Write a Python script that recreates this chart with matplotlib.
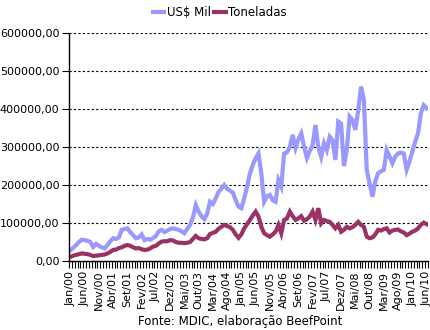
import numpy as np
import matplotlib
matplotlib.use('Agg')
import matplotlib.pyplot as plt

# ── Data (monthly, Jan/00 .. Jun/10) ─────────────────────────
MESES = ['Jan', 'Fev', 'Mar', 'Abr', 'Mai', 'Jun',
         'Jul', 'Ago', 'Set', 'Out', 'Nov', 'Dez']
meses = [f"{MESES[i % 12]}/{(i // 12):02d}" for i in range(126)]

usd_mil = [
    28000, 35000, 42000, 50000, 56000, 55000, 53000, 50000, 37000, 45000, 40000, 36000,
    33000, 42000, 52000, 60000, 58000, 62000, 82000, 84000, 86000, 76000, 68000, 60000,
    62000, 70000, 55000, 58000, 56000, 60000, 66000, 78000, 82000, 76000, 80000, 84000,
    86000, 84000, 82000, 78000, 73000, 85000, 95000, 115000, 147000, 130000, 118000, 110000,
    125000, 156000, 150000, 165000, 182000, 190000, 200000, 190000, 185000, 180000, 160000, 143000,
    139000, 165000, 196000, 230000, 253000, 270000, 283000, 230000, 156000, 170000, 174000, 160000,
    156000, 213000, 196000, 283000, 286000, 300000, 332000, 297000, 320000, 336000, 301000, 271000,
    290000, 305000, 358000, 300000, 274000, 310000, 292000, 327000, 318000, 266000, 367000, 362000,
    250000, 292000, 380000, 371000, 345000, 397000, 459000, 424000, 240000, 204000, 169000, 210000,
    231000, 236000, 240000, 292000, 275000, 257000, 275000, 283000, 285000, 283000, 240000, 262000,
    288000, 314000, 336000, 389000, 410000, 402000,
]

toneladas = [
    11000, 14000, 16000, 18000, 20000, 19000, 18000, 16000, 13000, 14000, 15000, 16000,
    17000, 20000, 24000, 29000, 30000, 34000, 36000, 40000, 42000, 40000, 36000, 33000,
    34000, 31000, 29000, 30000, 33000, 38000, 40000, 46000, 51000, 52000, 52000, 55000,
    54000, 50000, 48000, 48000, 47000, 48000, 50000, 58000, 66000, 60000, 58000, 57000,
    60000, 71000, 74000, 77000, 85000, 90000, 95000, 92000, 89000, 82000, 70000, 61000,
    70000, 86000, 97000, 108000, 120000, 130000, 117000, 90000, 73000, 68000, 64000, 70000,
    77000, 95000, 73000, 108000, 112000, 130000, 118000, 108000, 112000, 118000, 106000, 110000,
    117000, 130000, 108000, 139000, 99000, 108000, 105000, 103000, 95000, 86000, 95000, 77000,
    82000, 90000, 86000, 89000, 95000, 103000, 95000, 90000, 64000, 60000, 62000, 70000,
    82000, 80000, 84000, 86000, 75000, 80000, 82000, 83000, 78000, 75000, 68000, 72000,
    77000, 80000, 86000, 95000, 101000, 97000,
]

y_ticks = [0, 100000, 200000, 300000, 400000, 500000, 600000]

COR_USD = '#9999FF'
COR_TON = '#993366'

# ── Figure ───────────────────────────────────────────────────
fig = plt.figure(figsize=(4.31, 3.30), dpi=100)
ax = fig.add_axes([69 / 431, 1 - 261 / 330, 359 / 431, 228 / 330])

x = np.arange(len(meses))
ax.plot(x, usd_mil, color=COR_USD, lw=3.0, label='US$ Mil', solid_joinstyle='miter')
ax.plot(x, toneladas, color=COR_TON, lw=3.0, label='Toneladas', solid_joinstyle='miter')

ax.set_xlim(-0.5, len(meses) - 0.5)
ax.set_ylim(0, 600000)

# y axis
ax.set_yticks(y_ticks)
ax.set_yticklabels([f"{v:.2f}".replace('.', ',') for v in y_ticks], fontsize=8)
ax.yaxis.grid(True, color='black', linestyle=(0, (2, 2)), lw=0.8)
ax.set_axisbelow(True)

# x axis: tick every month boundary, label every 5 months
ax.set_xticks(np.arange(-0.5, len(meses), 1.0), minor=True)
lab_pos = x[::5]
ax.set_xticks(lab_pos)
ax.set_xticklabels([meses[i] for i in lab_pos], rotation=90, fontsize=8)
ax.tick_params(axis='x', which='major', length=0, pad=7)
ax.tick_params(axis='x', which='minor', length=5, width=0.8, direction='out')
ax.tick_params(axis='y', length=5, width=0.8, direction='out', pad=2)

for s in ['top', 'right']:
    ax.spines[s].set_visible(False)
for s in ['left', 'bottom']:
    ax.spines[s].set_linewidth(1.0)

fig.legend(loc='upper center', bbox_to_anchor=(0.51, 1.015), ncol=2, frameon=False,
           fontsize=8.5, handlelength=1.0, handletextpad=0.2, columnspacing=0.3)

fig.text(240 / 431, 1 - 322 / 330, 'Fonte: MDIC, elaboração BeefPoint',
         ha='center', va='center', fontsize=8.5)

plt.savefig('out.png', dpi=100)
